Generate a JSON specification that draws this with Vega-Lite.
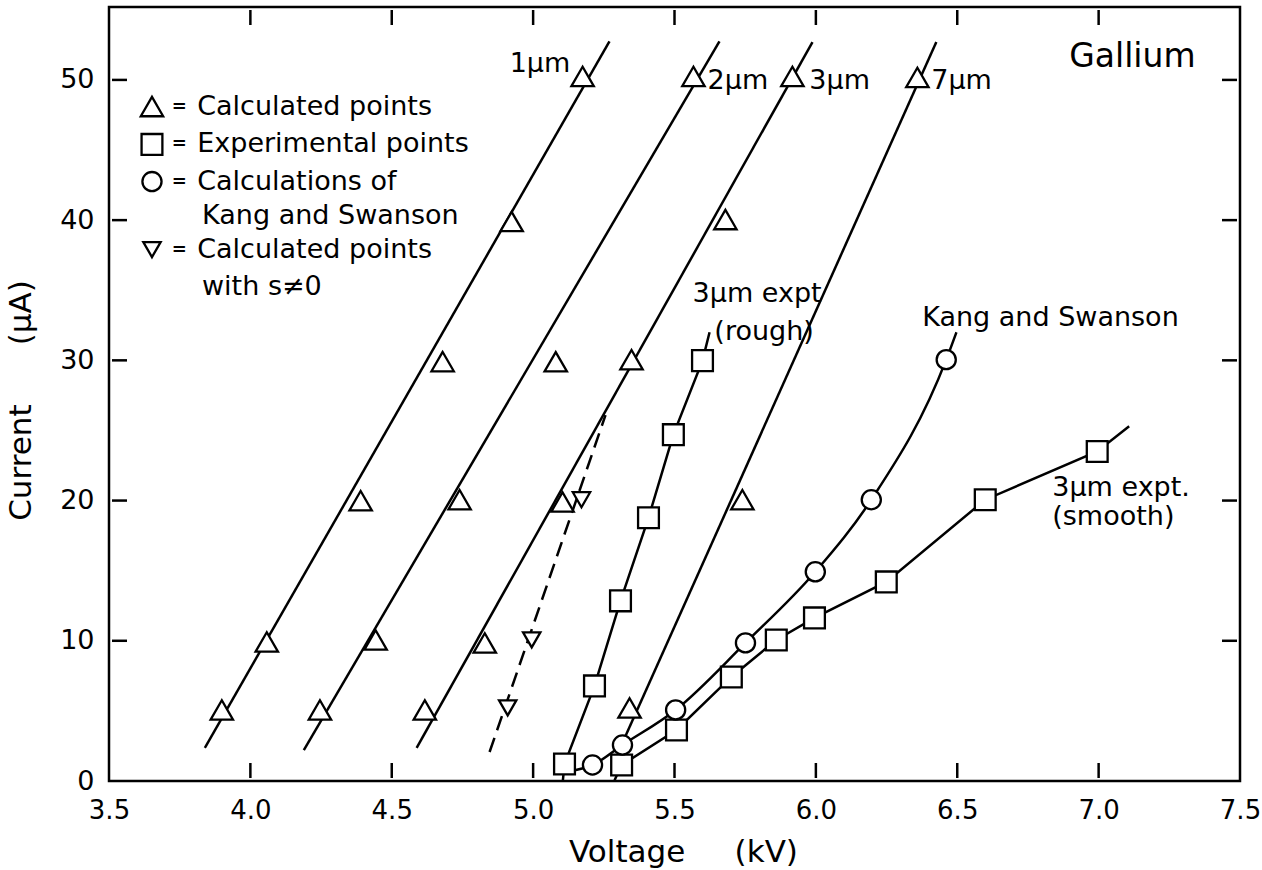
{
  "$schema": "https://vega.github.io/schema/vega-lite/v6.json",
  "width": 1131,
  "height": 774,
  "autosize": {"type": "none"},
  "padding": {"left": 109, "top": 7, "right": 22, "bottom": 89},
  "background": "white",
  "config": {
    "font": "DejaVu Sans",
    "view": {"stroke": "black", "strokeWidth": 2.5},
    "scale": {"continuousPadding": 0},
    "axis": {"grid": false, "domain": false, "labelColor": "black", "titleColor": "black", "labelFont": "DejaVu Sans", "titleFont": "DejaVu Sans", "titleFontWeight": "normal"}
  },
  "datasets": {
    "curves": [
      {"s": "1um", "V": 3.839, "I": 2.36}, {"s": "1um", "V": 5.270, "I": 52.75},
      {"s": "2um", "V": 4.189, "I": 2.21}, {"s": "2um", "V": 5.659, "I": 52.75},
      {"s": "3um", "V": 4.588, "I": 2.36}, {"s": "3um", "V": 5.988, "I": 52.7},
      {"s": "7um", "V": 5.32, "I": 2.9}, {"s": "7um", "V": 6.426, "I": 52.7},
      {"s": "rough", "V": 5.105, "I": 0.0}, {"s": "rough", "V": 5.111, "I": 1.21}, {"s": "rough", "V": 5.217, "I": 6.78}, {"s": "rough", "V": 5.309, "I": 12.85}, {"s": "rough", "V": 5.408, "I": 18.77}, {"s": "rough", "V": 5.496, "I": 24.7}, {"s": "rough", "V": 5.599, "I": 29.98}, {"s": "rough", "V": 5.624, "I": 32.0},
      {"s": "smooth", "V": 5.288, "I": 0.05}, {"s": "smooth", "V": 5.313, "I": 1.14}, {"s": "smooth", "V": 5.507, "I": 3.64}, {"s": "smooth", "V": 5.701, "I": 7.42}, {"s": "smooth", "V": 5.860, "I": 10.06}, {"s": "smooth", "V": 5.995, "I": 11.63}, {"s": "smooth", "V": 6.249, "I": 14.2}, {"s": "smooth", "V": 6.599, "I": 20.06}, {"s": "smooth", "V": 6.995, "I": 23.5}, {"s": "smooth", "V": 7.108, "I": 25.3}
    ],
    "vticks": [
      {"V0": 3.9956, "V1": 4.0044, "I0": 0.214, "I1": 1.284}, {"V0": 4.4956, "V1": 4.5044, "I0": 0.214, "I1": 1.284}, {"V0": 4.9956, "V1": 5.0044, "I0": 0.214, "I1": 1.284}, {"V0": 5.4956, "V1": 5.5044, "I0": 0.214, "I1": 1.284}, {"V0": 5.9956, "V1": 6.0044, "I0": 0.214, "I1": 1.284}, {"V0": 6.4956, "V1": 6.5044, "I0": 0.214, "I1": 1.284}, {"V0": 6.9956, "V1": 7.0044, "I0": 0.214, "I1": 1.284},
      {"V0": 3.9956, "V1": 4.0044, "I0": 53.916, "I1": 54.986}, {"V0": 4.4956, "V1": 4.5044, "I0": 53.916, "I1": 54.986}, {"V0": 4.9956, "V1": 5.0044, "I0": 53.916, "I1": 54.986}, {"V0": 5.4956, "V1": 5.5044, "I0": 53.916, "I1": 54.986}, {"V0": 5.9956, "V1": 6.0044, "I0": 53.916, "I1": 54.986}, {"V0": 6.4956, "V1": 6.5044, "I0": 53.916, "I1": 54.986}, {"V0": 6.9956, "V1": 7.0044, "I0": 53.916, "I1": 54.986}
    ],
    "hticks": [
      {"I": 10, "V0": 3.5106, "V1": 3.5637}, {"I": 20, "V0": 3.5106, "V1": 3.5637}, {"I": 30, "V0": 3.5106, "V1": 3.5637}, {"I": 40, "V0": 3.5106, "V1": 3.5637}, {"I": 50, "V0": 3.5106, "V1": 3.5637},
      {"I": 10, "V0": 7.4363, "V1": 7.4894}, {"I": 20, "V0": 7.4363, "V1": 7.4894}, {"I": 30, "V0": 7.4363, "V1": 7.4894}, {"I": 40, "V0": 7.4363, "V1": 7.4894}, {"I": 50, "V0": 7.4363, "V1": 7.4894}
    ],
    "kscurve": [
      {"V": 5.13, "I": 0.7}, {"V": 5.210, "I": 1.14}, {"V": 5.316, "I": 2.57}, {"V": 5.504, "I": 5.07}, {"V": 5.751, "I": 9.85}, {"V": 5.998, "I": 14.92}, {"V": 6.196, "I": 20.06}, {"V": 6.461, "I": 30.05}, {"V": 6.497, "I": 32.0}
    ],
    "dashed": [
      {"V": 4.846, "I": 2.07}, {"V": 5.256, "I": 26.1}
    ],
    "points": [
      {"kind": "calc", "V": 3.899, "I": 5.07}, {"kind": "calc", "V": 4.058, "I": 9.92}, {"kind": "calc", "V": 4.390, "I": 19.99}, {"kind": "calc", "V": 4.680, "I": 29.91}, {"kind": "calc", "V": 4.924, "I": 39.9}, {"kind": "calc", "V": 5.175, "I": 50.25},
      {"kind": "calc", "V": 4.246, "I": 5.07}, {"kind": "calc", "V": 4.443, "I": 10.06}, {"kind": "calc", "V": 4.740, "I": 20.06}, {"kind": "calc", "V": 5.080, "I": 29.9}, {"kind": "calc", "V": 5.567, "I": 50.25},
      {"kind": "calc", "V": 4.617, "I": 5.07}, {"kind": "calc", "V": 4.829, "I": 9.85}, {"kind": "calc", "V": 5.104, "I": 19.9}, {"kind": "calc", "V": 5.348, "I": 30.05}, {"kind": "calc", "V": 5.680, "I": 40.04}, {"kind": "calc", "V": 5.917, "I": 50.25},
      {"kind": "calc", "V": 5.341, "I": 5.21}, {"kind": "calc", "V": 5.740, "I": 20.06}, {"kind": "calc", "V": 6.359, "I": 50.18},
      {"kind": "calc_s", "V": 4.910, "I": 5.21}, {"kind": "calc_s", "V": 4.995, "I": 10.06}, {"kind": "calc_s", "V": 5.171, "I": 20.06},
      {"kind": "expt", "V": 5.111, "I": 1.21}, {"kind": "expt", "V": 5.217, "I": 6.78}, {"kind": "expt", "V": 5.309, "I": 12.85}, {"kind": "expt", "V": 5.408, "I": 18.77}, {"kind": "expt", "V": 5.496, "I": 24.7}, {"kind": "expt", "V": 5.599, "I": 29.98},
      {"kind": "expt", "V": 5.313, "I": 1.14}, {"kind": "expt", "V": 5.507, "I": 3.64}, {"kind": "expt", "V": 5.701, "I": 7.42}, {"kind": "expt", "V": 5.860, "I": 10.06}, {"kind": "expt", "V": 5.995, "I": 11.63}, {"kind": "expt", "V": 6.249, "I": 14.2}, {"kind": "expt", "V": 6.599, "I": 20.06}, {"kind": "expt", "V": 6.995, "I": 23.5},
      {"kind": "ks", "V": 5.210, "I": 1.14}, {"kind": "ks", "V": 5.316, "I": 2.57}, {"kind": "ks", "V": 5.504, "I": 5.07}, {"kind": "ks", "V": 5.751, "I": 9.85}, {"kind": "ks", "V": 5.998, "I": 14.92}, {"kind": "ks", "V": 6.196, "I": 20.06}, {"kind": "ks", "V": 6.461, "I": 30.05},
      {"kind": "calc", "V": 3.652, "I": 48.1}, {"kind": "expt", "V": 3.652, "I": 45.4}, {"kind": "ks", "V": 3.652, "I": 42.75}, {"kind": "calc_s", "V": 3.652, "I": 37.9}
    ],
    "labels": [
      {"t": "1µm", "V": 4.917, "I": 51.1},
      {"t": "2µm", "V": 5.617, "I": 49.9},
      {"t": "3µm", "V": 5.977, "I": 49.9},
      {"t": "7µm", "V": 6.408, "I": 49.9},
      {"t": "3µm expt", "V": 5.564, "I": 34.7},
      {"t": "(rough)", "V": 5.641, "I": 32.0},
      {"t": "Kang and Swanson", "V": 6.376, "I": 33.0},
      {"t": "3µm expt.", "V": 6.836, "I": 20.9},
      {"t": "(smooth)", "V": 6.836, "I": 18.8},
      {"t": "Calculated points", "V": 3.812, "I": 48.1},
      {"t": "Experimental points", "V": 3.812, "I": 45.4},
      {"t": "Calculations of", "V": 3.812, "I": 42.75},
      {"t": "Kang and Swanson", "V": 3.829, "I": 40.26},
      {"t": "Calculated points", "V": 3.812, "I": 37.9},
      {"t": "with s≠0", "V": 3.829, "I": 35.26}
    ],
    "eqs": [
      {"V": 3.749, "I": 48.1}, {"V": 3.749, "I": 45.4}, {"V": 3.749, "I": 42.75}, {"V": 3.749, "I": 37.9}
    ],
    "title": [
      {"t": "Gallium", "V": 6.896, "I": 51.6}
    ]
  },
  "layer": [
    {
      "data": {"name": "curves"},
      "mark": {"type": "line", "color": "black", "strokeWidth": 2.5},
      "encoding": {
        "x": {"field": "V", "type": "quantitative", "scale": {"domain": [3.5, 7.5], "nice": false, "zero": false, "padding": 0},
          "axis": {"orient": "bottom", "values": [3.5, 4.0, 4.5, 5.0, 5.5, 6.0, 6.5, 7.0, 7.5], "format": ".1f", "ticks": false, "labelPadding": 16, "labelFontSize": 26, "labelFlush": false, "title": "Voltage\u00a0\u00a0\u00a0\u00a0\u00a0(kV)", "titleFontSize": 31, "titlePadding": 14, "titleX": 574}},
        "y": {"field": "I", "type": "quantitative", "scale": {"domain": [0, 55.2], "nice": false, "zero": false, "padding": 0},
          "axis": {"orient": "left", "values": [0, 10, 20, 30, 40, 50], "ticks": false, "labelPadding": 15, "labelFontSize": 27, "labelFlush": false, "title": "Current\u00a0\u00a0\u00a0\u00a0\u00a0\u00a0(µA)", "titleFontSize": 31, "titlePadding": 22, "titleY": 393}},
        "detail": {"field": "s", "type": "nominal"}
      }
    },
    {
      "data": {"name": "vticks"},
      "mark": {"type": "rect", "color": "black"},
      "encoding": {
        "x": {"field": "V0", "type": "quantitative"},
        "x2": {"field": "V1"},
        "y": {"field": "I0", "type": "quantitative"},
        "y2": {"field": "I1"}
      }
    },
    {
      "data": {"name": "hticks"},
      "mark": {"type": "bar", "color": "black", "height": 2.5, "orient": "horizontal"},
      "encoding": {
        "y": {"field": "I", "type": "quantitative"},
        "x": {"field": "V0", "type": "quantitative"},
        "x2": {"field": "V1"}
      }
    },
    {
      "data": {"name": "kscurve"},
      "mark": {"type": "line", "color": "black", "strokeWidth": 2.5, "interpolate": "monotone"},
      "encoding": {
        "x": {"field": "V", "type": "quantitative"},
        "y": {"field": "I", "type": "quantitative"}
      }
    },
    {
      "data": {"name": "dashed"},
      "mark": {"type": "line", "color": "black", "strokeWidth": 2.5, "strokeDash": [15, 8]},
      "encoding": {
        "x": {"field": "V", "type": "quantitative"},
        "y": {"field": "I", "type": "quantitative"}
      }
    },
    {
      "data": {"name": "points"},
      "mark": {"type": "point", "filled": true, "fill": "white", "stroke": "black", "strokeWidth": 2.3, "opacity": 1},
      "encoding": {
        "x": {"field": "V", "type": "quantitative"},
        "y": {"field": "I", "type": "quantitative"},
        "shape": {"field": "kind", "type": "nominal", "legend": null,
          "scale": {"domain": ["calc", "expt", "ks", "calc_s"], "range": ["triangle-up", "square", "circle", "triangle-down"]}},
        "size": {"field": "kind", "type": "nominal", "legend": null,
          "scale": {"domain": ["calc", "expt", "ks", "calc_s"], "range": [500, 300, 240, 500]}}
      }
    },
    {
      "data": {"name": "labels"},
      "mark": {"type": "text", "align": "left", "baseline": "middle", "fontSize": 27, "color": "black"},
      "encoding": {
        "x": {"field": "V", "type": "quantitative"},
        "y": {"field": "I", "type": "quantitative"},
        "text": {"field": "t"}
      }
    },
    {
      "data": {"name": "eqs"},
      "mark": {"type": "text", "align": "center", "baseline": "middle", "fontSize": 18, "fontWeight": "bold", "color": "black", "text": "="},
      "encoding": {
        "x": {"field": "V", "type": "quantitative"},
        "y": {"field": "I", "type": "quantitative"}
      }
    },
    {
      "data": {"name": "title"},
      "mark": {"type": "text", "align": "left", "baseline": "middle", "fontSize": 33, "color": "black"},
      "encoding": {
        "x": {"field": "V", "type": "quantitative"},
        "y": {"field": "I", "type": "quantitative"},
        "text": {"field": "t"}
      }
    }
  ]
}
